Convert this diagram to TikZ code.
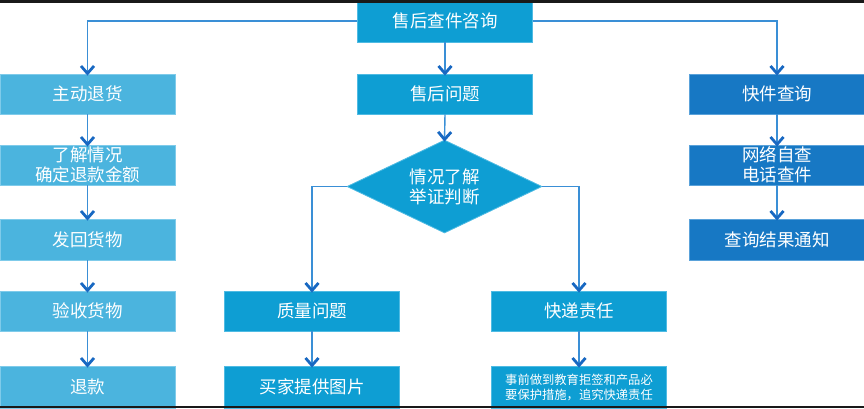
\documentclass[tikz,border=0pt]{standalone}
\usepackage{fontspec}
\setmainfont{Noto Sans CJK SC}
\usetikzlibrary{arrows.meta,shapes.geometric}
\definecolor{lblue}{HTML}{4BB4DE}
\definecolor{lborder}{HTML}{7FCBEA}
\definecolor{cblue}{HTML}{0E9ED3}
\definecolor{cborder}{HTML}{4FBBE3}
\definecolor{rblue}{HTML}{1778C4}
\definecolor{rborder}{HTML}{5AA2DA}
\definecolor{linec}{HTML}{3A8FD6}
\definecolor{tipc}{HTML}{1868C2}
\tikzset{
  box/.style={rectangle, minimum width=175pt, minimum height=40pt, inner sep=0pt,
    text=white, font=\fontsize{17.5}{20}\selectfont, align=center, line width=0.8pt},
  lbox/.style={box, fill=lblue, draw=lborder},
  cbox/.style={box, fill=cblue, draw=cborder},
  rbox/.style={box, fill=rblue, draw=rborder},
  conn/.style={draw=linec, line width=1.4pt,
    -{Straight Barb[length=7.5pt,width=13pt,line width=2.8pt,color=tipc]}},
}
\begin{document}
\begin{tikzpicture}[x=1pt,y=-1pt]
\useasboundingbox (0,0) rectangle (864,408);
\fill[white] (0,0) rectangle (864,408);
% top
\node[cbox, minimum height=42pt] (top) at (445,21) {售后查件咨询};
% left column
\node[lbox] (l1) at (87.5,94) {主动退货};
\node[lbox] (l2) at (87.5,165) {了解情况\\确定退款金额};
\node[lbox, minimum height=41pt] (l3) at (87.5,239.5) {发回货物};
\node[lbox] (l4) at (87.5,311) {验收货物};
\node[lbox, minimum height=42pt] (l5) at (87.5,387) {退款};
% center
\node[cbox] (c1) at (445,94) {售后问题};
\node[diamond, fill=cblue, draw=cborder, line width=0.8pt, minimum width=195pt, minimum height=93pt, inner sep=0pt] (dia) at (444.5,186.5) {};
\node[text=white, font=\fontsize{17.5}{20}\selectfont, align=center] (diatext) at (dia.center) {情况了解\\举证判断};
\node[cbox] (q1) at (312,311) {质量问题};
\node[cbox, minimum height=42pt] (q2) at (312,387) {买家提供图片};
\node[cbox] (k1) at (579,311) {快递责任};
\node[cbox, minimum height=42pt, font=\fontsize{12.3}{15}\selectfont] (k2) at (579,387) {事前做到教育拒签和产品必\\要保护措施，追究快递责任};
% right column
\node[rbox] (r1) at (777,94) {快件查询};
\node[rbox] (r2) at (777,165) {网络自查\\电话查件};
\node[rbox, minimum height=41pt] (r3) at (777,239.5) {查询结果通知};
% connectors
\draw[conn] (top.west) -| ([yshift=-2pt]l1.north);
\draw[conn] (top.east) -| ([yshift=-2pt]r1.north);
\draw[conn] (top.south) -- ([yshift=-2pt]c1.north);
\draw[conn] (c1.south) -- ([yshift=-2pt]dia.north);
\draw[conn] (dia.west) -| ([yshift=-2pt]q1.north);
\draw[conn] (dia.east) -| ([yshift=-2pt]k1.north);
\draw[conn] (q1.south) -- ([yshift=-2pt]q2.north);
\draw[conn] (k1.south) -- ([yshift=-2pt]k2.north);
\draw[conn] (l1.south) -- ([yshift=-2pt]l2.north);
\draw[conn] (l2.south) -- ([yshift=-2pt]l3.north);
\draw[conn] (l3.south) -- ([yshift=-2pt]l4.north);
\draw[conn] (l4.south) -- ([yshift=-2pt]l5.north);
\draw[conn] (r1.south) -- ([yshift=-2pt]r2.north);
\draw[conn] (r2.south) -- ([yshift=-2pt]r3.north);
% frame bars
\fill[black!90] (0,0) rectangle (864,3);
\fill[black!90] (0,405.5) rectangle (864,408);
\end{tikzpicture}
\end{document}
